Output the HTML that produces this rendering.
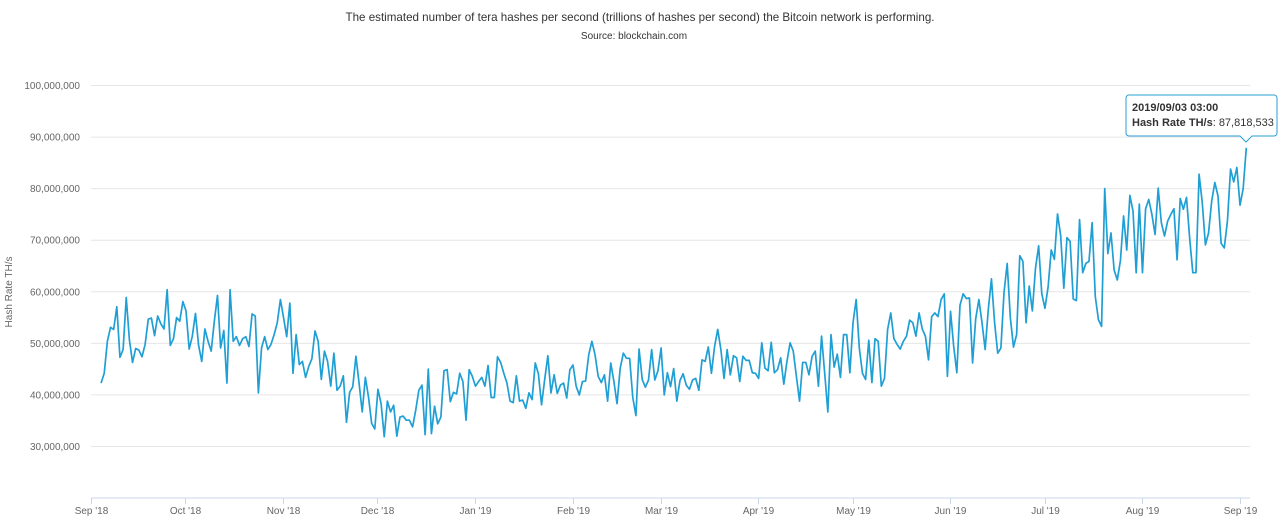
<!DOCTYPE html>
<html><head><meta charset="utf-8"><style>
body{margin:0;background:#fff;width:1280px;height:527px;overflow:hidden;font-family:"Liberation Sans",sans-serif}
svg text{font-family:"Liberation Sans",sans-serif}
</style></head><body>
<svg id="chart" width="1280" height="527" xmlns="http://www.w3.org/2000/svg">
<text x="640" y="21" text-anchor="middle" font-size="11.6" fill="#333">The estimated number of tera hashes per second (trillions of hashes per second) the Bitcoin network is performing.</text>
<text x="634" y="39" text-anchor="middle" font-size="10" fill="#333">Source: blockchain.com</text>
<text transform="translate(12,292) rotate(-90)" text-anchor="middle" font-size="10" fill="#666">Hash Rate TH/s</text>
<g id="grid"></g><g id="xaxis"></g><g id="series"></g>
<g>
<path d="M1129,95 H1274 a3,3 0 0 1 3,3 V133 a3,3 0 0 1 -3,3 H1252 L1246,142 L1240,136 H1129 a3,3 0 0 1 -3,-3 V98 a3,3 0 0 1 3,-3 Z" fill="#fff" fill-opacity="0.95" stroke="#2a9fd6" stroke-width="1"/>
<text x="1132" y="111" font-size="11" font-weight="bold" fill="#333">2019/09/03 03:00</text>
<text x="1132" y="126" font-size="11" fill="#333"><tspan font-weight="bold">Hash Rate TH/s</tspan>: 87,818,533</text>
</g>
</svg>
<script>
const yTicks=[30,40,50,60,70,80,90,100];
const xTickLabels=["Sep '18","Oct '18","Nov '18","Dec '18","Jan '19","Feb '19","Mar '19","Apr '19","May '19","Jun '19","Jul '19","Aug '19","Sep '19"];
const xTickDays=[0,30,61,91,122,153,181,212,242,273,303,334,365];
const startDay=3.2;
const endDay=367;
const hashRate=[42.2,44.1,50.3,53,52.6,57,47.2,48.7,58.8,50.6,46.2,48.9,48.6,47.3,49.7,54.6,54.8,51.4,55.2,53.7,52.7,60.3,49.5,50.8,54.9,54.2,58,56.2,48.8,51.3,55.7,49.5,46.4,52.7,50.3,48.4,54.2,59.2,49,52.4,42.2,60.3,50.3,51.2,49.5,50.8,51.2,49.3,55.6,55.2,40.3,49,51.2,48.7,49.7,51.6,53.9,58.4,54.9,51.2,57.7,44.1,
51.6,45.8,46.4,43.3,45.4,46.9,52.3,50.3,42.9,48.4,46.4,41.6,48,40.8,41.6,43.6,34.6,40.4,41.5,47.4,42.2,36.6,43.3,39.5,34.4,33.3,41,38.2,31.8,38.7,36.6,37.9,31.9,35.6,35.8,35,35,33.7,36.9,40.8,41.8,32.2,44.9,32.4,37.7,34.3,35.6,44.6,44.8,38.6,40.4,40.1,44.1,42.5,35,44.8,43.5,41.6,42.5,43.3,41.6,45.6,
39.4,39.4,47.3,46.2,44.1,42.2,38.7,38.4,43.6,38.7,38.9,37.3,40.3,39,46.1,44,38,42.9,47.5,40.3,43.8,40.2,41.8,42.2,39.3,44.8,45.7,41.6,39.9,42.5,42.6,47.7,50.3,47.7,43.5,42.3,43.8,38.7,46.1,42.5,38.2,45.1,48,47,47,39.4,35.9,48.8,42.9,41.4,42.8,48.7,42.8,44.6,49,39.9,44.2,41.5,45,38.7,42.7,44,
41.8,41,42.8,43.1,40.8,46.7,46.4,49.2,44.1,49.3,52.6,48.7,43.1,48.7,43.8,47.5,47.1,42.5,47.4,46.6,46.6,44.2,44.1,43.1,50,45.1,44.6,50.1,44.2,44.8,47.1,42,46.4,50,48.4,43.5,38.7,46.2,46.2,43.8,47.4,48.4,41.6,51.3,44.1,36.6,51.6,45.3,47.8,43.3,51.6,51.6,44.2,53.9,58.4,49,44.1,42.9,50.5,42.3,50.8,50.3,
41.6,43.1,52.6,55.8,50.8,49.7,48.8,50.3,51.3,54.4,53.9,51.3,55.8,52.7,51.3,46.7,55.1,55.8,55.1,58.4,59.5,43.5,56.1,49.3,44.2,57.3,59.5,58.6,58.7,46.1,54.7,58.4,53.9,48.7,56.5,62.4,53.9,48,49,59.8,65.4,54.9,49.2,51.6,66.9,65.8,53.9,61,56.2,64.5,68.8,59.5,56.7,60.8,68,66.2,75,70.8,60.6,70.4,69.7,58.5,
58.2,73.9,63.6,65.4,65.8,73.3,59,54.5,53.2,79.9,67.3,71.3,64.1,62.2,66,74.6,68,78.6,75.5,63.6,76.9,63.6,76,77.8,74.9,71,80,73.3,70.7,73.6,74.9,76,66.1,78,75.9,78.2,70.3,63.6,63.6,82.7,77.2,69,71.3,77.5,81.1,78.5,69.3,68.4,73.6,83.7,81.2,84,76.7,79.9,87.818533];

const NS="http://www.w3.org/2000/svg";
const X0=91,X1=1240,Y0=85,PXM=5.157;
function xDay(d){return X0+(X1-X0)*d/365;}
function yVal(v){return Y0+(100-v)*PXM;}
function fmt(v){return Math.round(v*1e6).toLocaleString('en-US');}
const grid=document.getElementById('grid');
yTicks.forEach(t=>{
  const l=document.createElementNS(NS,'line');
  
  
  l.setAttribute('x1',X0);l.setAttribute('x2',1250);
  l.setAttribute('y1',yVal(t)+0.5);l.setAttribute('y2',yVal(t)+0.5);
  l.setAttribute('stroke','#e6e6e6');grid.appendChild(l);
  const tx=document.createElementNS(NS,'text');
  
  
  tx.setAttribute('x',80);tx.setAttribute('y',yVal(t)+4);
  tx.setAttribute('text-anchor','end');tx.setAttribute('font-size','10');tx.setAttribute('fill','#666');
  tx.textContent=fmt(t);grid.appendChild(tx);
});
const xa=document.getElementById('xaxis');
const axisY=yVal(20)+0.5;
const al=document.createElementNS(NS,'line');


al.setAttribute('x1',X0);al.setAttribute('x2',1250);al.setAttribute('y1',axisY);al.setAttribute('y2',axisY);
al.setAttribute('stroke','#ccd6eb');xa.appendChild(al);
xTickLabels.forEach((lab,i)=>{
  const x=Math.round(xDay(xTickDays[i]))+0.5;
  const tk=document.createElementNS(NS,'line');
  
  
  tk.setAttribute('x1',x);tk.setAttribute('x2',x);tk.setAttribute('y1',axisY);tk.setAttribute('y2',axisY+6);
  tk.setAttribute('stroke','#ccd6eb');xa.appendChild(tk);
  const tx=document.createElementNS(NS,'text');
  
  
  tx.setAttribute('x',x);tx.setAttribute('y',axisY+16);tx.setAttribute('text-anchor','middle');
  tx.setAttribute('font-size','10');tx.setAttribute('fill','#666');
  tx.textContent=lab;xa.appendChild(tx);
});
const n=hashRate.length;
let d='';
hashRate.forEach((v,i)=>{
  const day=startDay+(endDay-startDay)*i/(n-1);
  d+=(i?'L':'M')+xDay(day).toFixed(2)+','+yVal(v).toFixed(2);
});
const p=document.createElementNS(NS,'path');


p.setAttribute('d',d);p.setAttribute('fill','none');p.setAttribute('stroke','#1f9fd4');
p.setAttribute('stroke-width','1.7');p.setAttribute('stroke-linejoin','round');
document.getElementById('series').appendChild(p);
</script>
</body></html>
